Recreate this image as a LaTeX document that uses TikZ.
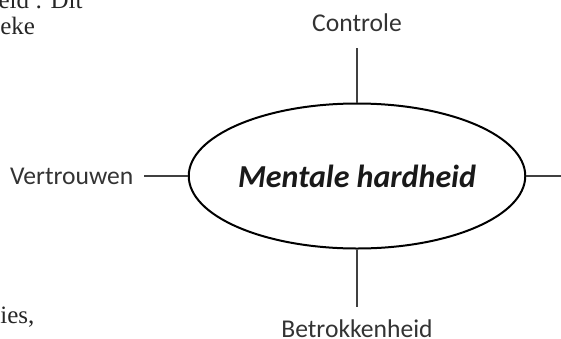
\documentclass[tikz,border=0pt]{standalone}
\usepackage{fontspec}
\setmainfont{Carlito}
\newfontfamily\bodyfont{Liberation Serif}
\usetikzlibrary{positioning,shapes.geometric}
\begin{document}
\begin{tikzpicture}[x=0.5pt,y=-0.5pt,
		label/.style={font=\fontsize{12.8}{15}\selectfont, text=black!80, inner xsep=5pt},
		body/.style={font=\bodyfont\fontsize{12.5}{15}\selectfont, text=black!85, inner sep=0pt},
		spoke/.style={draw=black!75, line width=0.7pt}]
			\useasboundingbox (0,0) rectangle (561,338);
			\clip (0,0) rectangle (561,338);

			\node(mh) [ellipse, draw, line width=1pt, minimum width=166pt, minimum height=72.5pt, inner sep=0pt,
				font=\fontsize{16}{19}\selectfont\bfseries\itshape, text=black!90] at (357,176) {Mentale hardheid};
			\node(c) [label, inner ysep=7.5pt, above=27.5pt of mh] {Controle};
			\node(b) [label, inner ysep=6.5pt, below=28.5pt of mh] {Betrokkenheid};
			\node(v) [label, left=22pt of mh] {Vertrouwen};
			\coordinate(r) at (561,176);

			\draw[spoke](mh) -- (c);
			\draw[spoke](mh) -- (b);
			\draw[spoke](mh) -- (v);
			\draw[spoke](mh) -- (r);

			% surrounding page text
			\node(t1) [body, anchor=base east] at (83,8) {eid : Dit};
			\node(t2) [body, anchor=base west] at (0,34) {eke};
			\node(t3) [body, anchor=base west] at (0,323) {ies,};
		\end{tikzpicture}
\end{document}
